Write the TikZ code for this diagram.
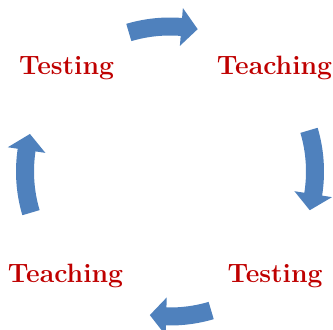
\documentclass[tikz,border=0pt]{standalone}
\usepackage{tikz}

\definecolor{wordred}{rgb}{0.75,0,0}
\definecolor{arrowblue}{RGB}{79,129,189}

\begin{document}
\begin{tikzpicture}[x=1pt, y=1pt,
    word/.style={text=wordred, font=\fontsize{26.5}{31}\selectfont\bfseries, anchor=base, inner sep=0pt}]
            \useasboundingbox (0,0) rectangle (333,330);
            \coordinate (mid) at (170,158.5);

            \node[word] (testTop) at (66.5,255) {Testing};
            \node[word] (teachTop) at (274.5,255) {Teaching};
            \node[word] (teachBot) at (65.5,47) {Teaching};
            \node[word] (testBot) at (275,47) {Testing};

            % rotation / tip angle of each arrow
            \foreach \r/\t in {0/79,-90/74.5,-180/82,-270/75}
            {
                \pgfmathsetmacro{\hb}{\t+6.5}
                \fill[arrowblue, shift={(mid)}, rotate=\r]
                    (106.5:136pt) arc[start angle=106.5, end angle=\hb, radius=136pt]
                    -- (\hb:126pt) -- (\t:145pt) -- (\hb:164pt) -- (\hb:154pt)
                    arc[start angle=\hb, end angle=106.5, radius=154pt] -- cycle;
            }
        \end{tikzpicture}
\end{document}
